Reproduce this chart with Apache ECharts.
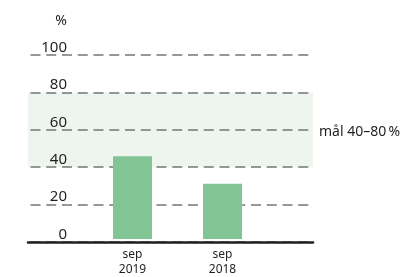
<!DOCTYPE html>
<html><head><meta charset="utf-8">
<script src="https://cdn.jsdelivr.net/npm/echarts@6/dist/echarts.min.js"></script>
<style>html,body{margin:0;padding:0;background:#fff}#c{width:406px;height:277px}</style>
</head><body><div id="c"></div>
<script>
const categories = ['sep\n2019', 'sep\n2018'];
const values = [45, 30];
const yMin = 0, yMax = 100, yStep = 20;
const targetBand = [40, 80];
const targetLabel = 'mål 40–80\u2009%';
const unitLabel = '%';

const FONT = '"Noto Sans", sans-serif';
const TXT = '#231f20';
const chart = echarts.init(document.getElementById('c'), null, {renderer: 'canvas'});
chart.setOption({
  animation: false,
  textStyle: {fontFamily: FONT},
  title: {text: unitLabel, right: 339, top: 14, padding: 0, textStyle: {fontFamily: FONT, fontSize: 14, fontWeight: 'normal', color: TXT}},
  grid: [
    {left: 28, right: 93, top: 55, bottom: 35},
    {left: 87.5, width: 180, top: 55, bottom: 35}
  ],
  xAxis: [
    {gridIndex: 0, type: 'value', min: 0, max: 1, z: 8,
     axisLine: {show: true, onZero: false, lineStyle: {color: TXT, width: 2.5}},
     axisTick: {show: false}, axisLabel: {show: false}, splitLine: {show: false}},
    {gridIndex: 1, type: 'category', data: categories,
     axisLine: {show: false}, axisTick: {show: false},
     axisLabel: {fontFamily: FONT, fontSize: 12, color: TXT, lineHeight: 15, margin: 8}}
  ],
  yAxis: [
    {gridIndex: 0, type: 'value', min: yMin, max: yMax, interval: yStep, z: 3,
     axisLine: {show: false}, axisTick: {show: false},
     axisLabel: {fontFamily: FONT, fontSize: 15, color: TXT, margin: -39, verticalAlign: 'bottom', lineHeight: 15},
     splitLine: {show: true, lineStyle: {color: '#767676', width: 1.7, type: [10, 5.75], dashOffset: 13.25}}},
    {gridIndex: 1, type: 'value', min: yMin, max: yMax, interval: yStep, show: false, splitLine: {show: false}}
  ],
  series: [
    {type: 'line', xAxisIndex: 0, yAxisIndex: 0, data: [], z: 1, silent: true,
     markArea: {silent: true, itemStyle: {color: '#edf5ee'},
       label: {show: true, position: 'right', distance: 6, offset: [0, 2], fontFamily: FONT, fontSize: 14, color: TXT},
       data: [[{yAxis: targetBand[0], name: targetLabel}, {yAxis: targetBand[1]}]]}},
    {type: 'bar', xAxisIndex: 1, yAxisIndex: 1, data: values, barWidth: 39, z: 5,
     itemStyle: {color: '#82c493'}}
  ]
});
</script></body></html>
